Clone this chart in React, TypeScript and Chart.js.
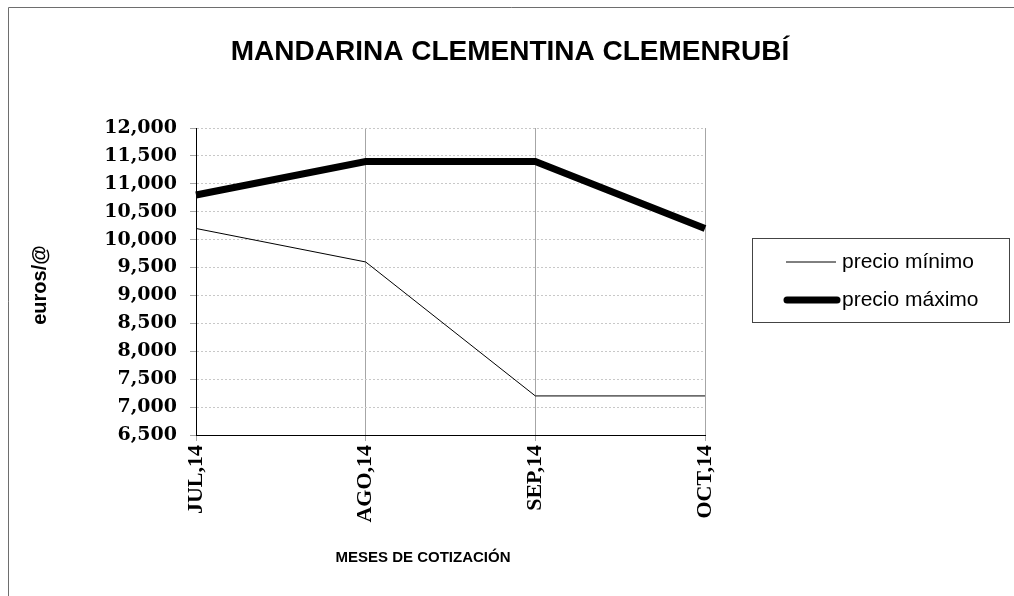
import React, { useEffect, useRef } from "react";
import { Chart, registerables } from "chart.js";

Chart.register(...registerables);

const months = ["JUL,14", "AGO,14", "SEP,14", "OCT,14"];
const precioMinimo = [10200, 9600, 7200, 7200];
const precioMaximo = [10800, 11400, 11400, 10200];
const yMin = 6500;
const yMax = 12000;
const yStep = 500;
const seriesNames = ["precio mínimo", "precio máximo"];
const chartTitle = "MANDARINA CLEMENTINA CLEMENRUBÍ";
const yTitle = "euros/@";
const xTitle = "MESES DE COTIZACIÓN";

const decorPlugin = {
  id: "decor",
  beforeDraw(chart: any) {
    const ctx = chart.ctx;
    ctx.save();
    ctx.fillStyle = "#ffffff";
    ctx.fillRect(0, 0, chart.width, chart.height);
    ctx.restore();
  },
  afterDraw(chart: any) {
    const ctx = chart.ctx;
    ctx.save();
    // frame
    ctx.strokeStyle = "#6e6e6e";
    ctx.lineWidth = 1;
    ctx.beginPath();
    ctx.moveTo(8.5, 596);
    ctx.lineTo(8.5, 7.5);
    ctx.lineTo(1014, 7.5);
    ctx.stroke();

    ctx.fillStyle = "#000";
    ctx.textAlign = "center";
    ctx.textBaseline = "middle";
    ctx.font = "bold 28px 'Liberation Sans', Arial, sans-serif";
    ctx.fillText(chartTitle, 510, 52);

    ctx.font = "bold 15px 'Liberation Sans', Arial, sans-serif";
    ctx.fillText(xTitle, 423, 558);

    ctx.save();
    ctx.translate(40, 285);
    ctx.rotate(-Math.PI / 2);
    ctx.font = "bold 20px 'Liberation Sans', Arial, sans-serif";
    ctx.fillText(yTitle, 0, 0);
    ctx.restore();

    // legend
    ctx.strokeStyle = "#444";
    ctx.lineWidth = 1;
    ctx.strokeRect(752.5, 238.5, 257, 84);
    const ds = chart.data.datasets;
    const rows = [262, 300];
    ds.forEach((d: any, i: number) => {
      ctx.beginPath();
      ctx.strokeStyle = d.borderColor;
      ctx.lineWidth = d.borderWidth;
      ctx.lineCap = i === 1 ? "round" : "butt";
      ctx.moveTo(i === 1 ? 787 : 786, rows[i]);
      ctx.lineTo(i === 1 ? 837 : 836, rows[i]);
      ctx.stroke();
      ctx.fillStyle = "#000";
      ctx.textAlign = "left";
      ctx.textBaseline = "middle";
      ctx.font = "21px 'Liberation Sans', Arial, sans-serif";
      ctx.fillText(d.label, 842, rows[i]);
    });
    ctx.restore();
  },
};

export default function App() {
  const ref = useRef<HTMLCanvasElement | null>(null);
  useEffect(() => {
    if (!ref.current) return;
    const chart = new Chart(ref.current, {
      type: "line",
      data: {
        labels: months,
        datasets: [
          {
            label: seriesNames[0],
            data: precioMinimo,
            borderColor: "#000000",
            borderWidth: 1,
            pointRadius: 0,
            tension: 0,
            fill: false,
          },
          {
            label: seriesNames[1],
            data: precioMaximo,
            borderColor: "#000000",
            borderWidth: 7,
            pointRadius: 0,
            tension: 0,
            fill: false,
          },
        ],
      },
      options: {
        animation: false,
        responsive: false,
        maintainAspectRatio: false,
        devicePixelRatio: 1,
        layout: { padding: { left: 0, right: 309, top: 128, bottom: 0 } },
        plugins: {
          legend: { display: false },
          title: { display: false },
          tooltip: { enabled: false },
        },
        scales: {
          x: {
            offset: false,
            grid: {
              color: "#a6a6a6",
              lineWidth: 1,
              drawTicks: true,
              tickLength: 6,
              tickColor: "#a6a6a6",
            },
            border: { color: "#000", width: 1 },
            ticks: {
              maxRotation: 90,
              minRotation: 90,
              color: "#000",
              padding: 4,
              font: { family: "'Liberation Serif', 'Times New Roman', serif", size: 22, weight: "bold" },
            },
            afterFit(scale: any) {
              scale.height = 161;
            },
          },
          y: {
            min: yMin,
            max: yMax,
            ticks: {
              stepSize: yStep,
              color: "#000",
              padding: 13,
              font: { family: "'DejaVu Serif', serif", size: 19, weight: "bold" },
              callback: (v: any) => Number(v).toLocaleString("en-US"),
            },
            grid: {
              color: "#c8c8c8",
              lineWidth: 1,
              drawTicks: true,
              tickLength: 6,
              tickColor: "#a6a6a6",
            },
            border: { color: "#000", width: 1, dash: [2, 2] },
            afterFit(scale: any) {
              scale.width = 196;
            },
          },
        },
      },
      plugins: [decorPlugin],
    });
    return () => chart.destroy();
  }, []);
  return (
    <div style={{ position: "absolute", left: 0, top: 0, width: 1014, height: 596 }}>
      <canvas ref={ref} width={1014} height={596} style={{ display: "block" }} />
    </div>
  );
}
